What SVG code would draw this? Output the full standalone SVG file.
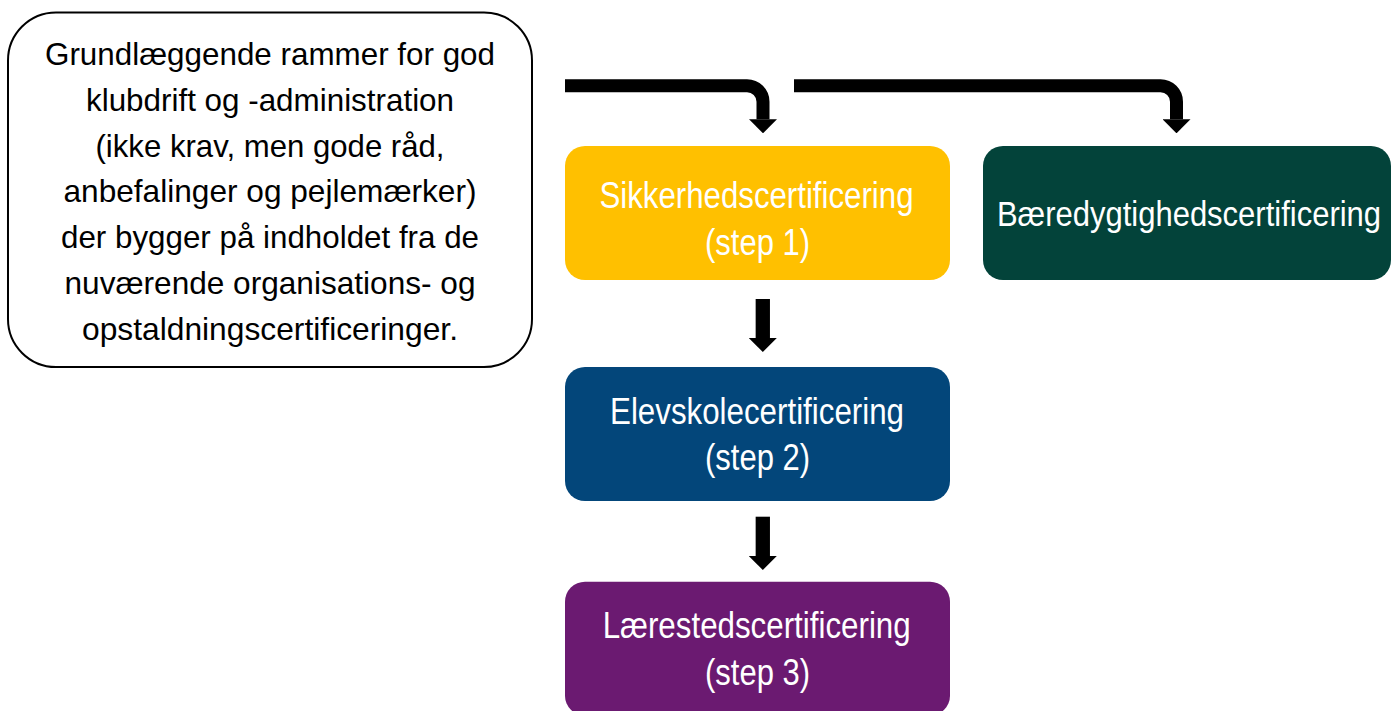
<svg xmlns="http://www.w3.org/2000/svg" width="1392" height="711" viewBox="0 0 1392 711">
<style>
.lbl{font-family:"Liberation Sans",Arial,sans-serif;text-anchor:middle}
.w{fill:#ffffff;font-size:36px}
.k{fill:#000000;font-size:32px}
.conn{fill:none;stroke:#000000}
</style>
<defs>
<marker id="ah" markerUnits="userSpaceOnUse" viewBox="0 0 14 28" refX="0" refY="14" markerWidth="14" markerHeight="28" orient="auto">
<path d="M0,0 L14,14 L0,28 Z" fill="#000000"/>
</marker>
</defs>
<rect width="1392" height="711" fill="#ffffff"/>
<g id="connectors">
<path class="conn" stroke-width="13" d="M565,85.7 H747 A16,16 0 0 1 763,101.7 V119.3" marker-end="url(#ah)"/>
<path class="conn" stroke-width="13" d="M794,85.7 H1160.5 A16,16 0 0 1 1176.5,101.7 V119.3" marker-end="url(#ah)"/>
<path class="conn" stroke-width="14.3" d="M762.8,299 V338" marker-end="url(#ah)"/>
<path class="conn" stroke-width="14.3" d="M762.8,516.7 V556" marker-end="url(#ah)"/>
</g>
<g id="node-grundlaeggende">
<rect x="8" y="12.5" width="524" height="354.5" rx="48" ry="48" fill="#ffffff" stroke="#000000" stroke-width="2"/>
<text class="lbl k" x="270" y="65" textLength="450" lengthAdjust="spacingAndGlyphs">Grundlæggende rammer for god</text>
<text class="lbl k" x="270" y="110.8" textLength="368" lengthAdjust="spacingAndGlyphs">klubdrift og -administration</text>
<text class="lbl k" x="270" y="156.6" textLength="349" lengthAdjust="spacingAndGlyphs">(ikke krav, men gode råd,</text>
<text class="lbl k" x="270" y="202.4" textLength="413" lengthAdjust="spacingAndGlyphs">anbefalinger og pejlemærker)</text>
<text class="lbl k" x="270" y="248.2" textLength="418" lengthAdjust="spacingAndGlyphs">der bygger på indholdet fra de</text>
<text class="lbl k" x="270" y="294" textLength="411" lengthAdjust="spacingAndGlyphs">nuværende organisations- og</text>
<text class="lbl k" x="270" y="339.8" textLength="376" lengthAdjust="spacingAndGlyphs">opstaldningscertificeringer.</text>
</g>
<g id="node-sikkerhed">
<rect x="565" y="146" width="385" height="134" rx="20" ry="20" fill="#FFC000"/>
<text class="lbl w" x="756.5" y="208.3" textLength="314" lengthAdjust="spacingAndGlyphs">Sikkerhedscertificering</text>
<text class="lbl w" x="757.5" y="255" textLength="105" lengthAdjust="spacingAndGlyphs">(step 1)</text>
</g>
<g id="node-baeredygtighed">
<rect x="983" y="146" width="408" height="134" rx="20" ry="20" fill="#03433A"/>
<text class="lbl" x="0" y="0" fill="#ffffff" font-size="31" transform="translate(1189,226) scale(1,1.16)">Bæredygtighedscertificering</text>
</g>
<g id="node-elevskole">
<rect x="565" y="367" width="385" height="134" rx="20" ry="20" fill="#03467A"/>
<text class="lbl w" x="757" y="424" textLength="294" lengthAdjust="spacingAndGlyphs">Elevskolecertificering</text>
<text class="lbl w" x="757.5" y="470" textLength="105" lengthAdjust="spacingAndGlyphs">(step 2)</text>
</g>
<g id="node-laerested">
<rect x="565" y="581.7" width="385" height="134" rx="20" ry="20" fill="#6B1A71"/>
<text class="lbl w" x="756.7" y="638" textLength="308" lengthAdjust="spacingAndGlyphs">Lærestedscertificering</text>
<text class="lbl w" x="757.5" y="685" textLength="105" lengthAdjust="spacingAndGlyphs">(step 3)</text>
</g>
</svg>
